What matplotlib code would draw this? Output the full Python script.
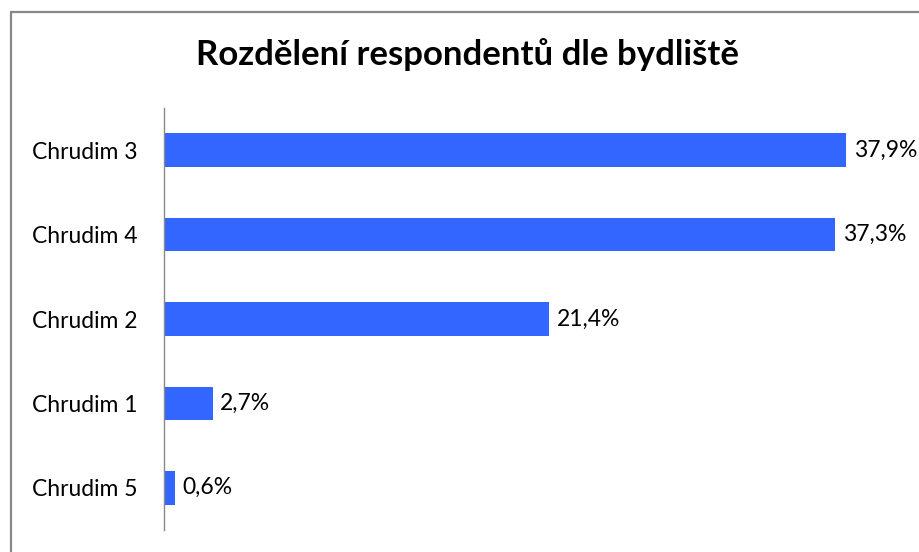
import matplotlib.pyplot as plt
from matplotlib.patches import Rectangle

# data
categories = ['Chrudim 3', 'Chrudim 4', 'Chrudim 2', 'Chrudim 1', 'Chrudim 5']
shares = [37.9, 37.3, 21.4, 2.7, 0.6]
title = 'Rozdělení respondentů dle bydliště'

plt.rcParams['font.family'] = ['Lato', 'DejaVu Sans']

fig = plt.figure(figsize=(9.19, 5.52), dpi=100)
W, H = 919, 552

# gray frame around the chart (open to the right/bottom like the source)
fig.add_artist(Rectangle((10.5 / W, -0.1), 1.2, (H - 11.5) / H + 0.1,
                         transform=fig.transFigure, fill=False,
                         edgecolor='#888888', linewidth=1.6))

ax = fig.add_axes([164 / W, 1 - 530 / H, 720 / W, 422 / H])
ypos = list(range(len(categories)))
ax.barh(ypos, shares, height=0.40, color='#3366FF')
ax.set_ylim(len(categories) - 0.5, -0.5)
ax.set_xlim(0, 40)

ax.set_yticks(ypos)
ax.set_yticklabels(categories, fontsize=16.5)
ax.tick_params(axis='y', length=0, pad=19)
ax.set_xticks([])
for s in ['top', 'right', 'bottom']:
    ax.spines[s].set_visible(False)
ax.spines['left'].set_color('#888888')
ax.spines['left'].set_linewidth(1.0)

for y, v in zip(ypos, shares):
    ax.annotate(f'{v:.1f}%'.replace('.', ','), (v, y), xytext=(5.5, 0),
                textcoords='offset points', va='center', ha='left', fontsize=16.5)

fig.text(468 / W, 1 - 55 / H, title, ha='center', va='center',
         fontsize=25, fontweight='bold')

fig.savefig('out.png', dpi=100)
